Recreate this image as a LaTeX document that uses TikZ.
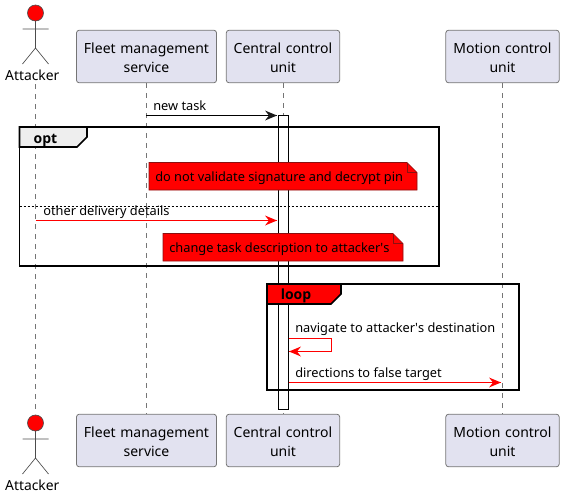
\documentclass[tikz,border=0pt]{standalone}
\usepackage{fontspec}
\setmainfont{Noto Sans}
\newfontfamily\fragfont{Open Sans}
\usetikzlibrary{calc}
\definecolor{partfill}{HTML}{E2E2F0}
\definecolor{partdraw}{HTML}{757575}
\definecolor{lifegray}{HTML}{757575}
\definecolor{tabgray}{HTML}{EEEEEE}
\definecolor{notedraw}{HTML}{8A1010}
\newcommand{\dn}[1]{\raisebox{-0.6pt}[\height][\depth]{#1}}
\tikzset{
  x=0.75pt,y=-0.75pt,
  txt/.style={inner sep=0pt,font=\fontsize{9.6pt}{13pt}\selectfont},
  acttxt/.style={inner sep=0pt,font=\fontsize{10.4pt}{13pt}\selectfont},
  fraglabel/.style={inner sep=0pt,anchor=base,font=\fragfont\fontsize{10.5pt}{13pt}\selectfont\bfseries},
  part/.style={draw=partdraw,fill=partfill,rounded corners=2pt,line width=0.6pt,align=center,inner sep=0pt,text width=105pt,minimum height=39.4pt,font=\fontsize{10.5pt}{14.2pt}\selectfont},
  part2/.style={part,text width=85pt},
  life/.style={draw=lifegray,line width=0.5pt,dash pattern=on 3.75pt off 3.75pt},
  stick/.style={draw=black!70,line width=0.5pt},
  msg/.style={line width=0.75pt},
  frame/.style={draw=black,line width=1.25pt},
  notebox/.style={draw=notedraw,line width=0.5pt,fill=red},
}
\newcommand{\arrowR}[2]{\fill[#1] (#2) -- ++(-12,-5) -- ++(4,5) -- ++(-4,5) -- cycle;}
\newcommand{\arrowL}[2]{\fill[#1] (#2) -- ++(12,-5) -- ++(-4,5) -- ++(4,5) -- cycle;}
\newcommand{\actor}[2]{%
  \draw[stick,fill=red] (#1,#2) circle (8);
  \draw[stick] (#1,#2+8) -- ++(0,27) (#1-13,#2+16) -- (#1+13,#2+16)
    (#1,#2+35) -- ++(-13,16) (#1,#2+35) -- ++(13,16);
}
\begin{document}
\begin{tikzpicture}
\useasboundingbox (0,0) rectangle (563,497);
\node[acttxt] (att1) at (32.3,75) {Attacker};
\node[acttxt] (att2) at (32.3,485) {Attacker};
\node[part] (fl1) at (146.5,56.5) {\dn{Fleet management}\\\dn{service}};
\node[part2] (cc1) at (283,56.5) {\dn{Central control}\\\dn{unit}};
\node[part2] (mc1) at (502.5,56.5) {\dn{Motion control}\\\dn{unit}};
\node[part] (fl2) at (146.5,440.5) {\dn{Fleet management}\\\dn{service}};
\node[part2] (cc2) at (283,440.5) {\dn{Central control}\\\dn{unit}};
\node[part2] (mc2) at (502.5,440.5) {\dn{Motion control}\\\dn{unit}};
\draw[life] (35.5,84) -- (35.5,409);
\draw[life] (fl1.south) -- (fl2.north);
\draw[life] (cc1.south) -- (cc2.north);
\draw[life] (mc1.south) -- (mc2.north);
\actor{35.5}{13}
\actor{35.5}{423}
% activation
\draw[fill=white,line width=0.75pt] (278.5,115.5) rectangle (288.5,409.5);
% new task
\coordinate (m1s) at (146,115.5); \coordinate (m1e) at (277,115.5);
\draw[msg] (m1s) -- (m1e);
\arrowR{black!90}{m1e}
\node[txt,anchor=base west] (t1) at (153,110) {new task};
% opt frame
\draw[frame] (19.5,127) rectangle (439,266);
\draw[line width=1.25pt,fill=tabgray] (19.5,127) -- (87,127) -- (87,137) -- (77,147) -- (19.5,147) -- cycle;
\node[fraglabel] (optl) at (45.5,143) {opt};
% note 1
\draw[notebox] (149,162.5) -- (407,162.5) -- (417,172.5) -- (417,190) -- (149,190) -- cycle;
\draw[notedraw,line width=0.5pt] (407,162.5) -- (407,172.5) -- (417,172.5);
\node[txt,anchor=base west] (n1) at (155,181.5) {do not validate signature and decrypt pin};
% separator
\draw[line width=0.75pt,dash pattern=on 1.5pt off 1.5pt] (19.5,206.5) -- (439,206.5);
% other delivery
\coordinate (m2s) at (35.5,220.5); \coordinate (m2e) at (277,220.5);
\draw[msg,red] (m2s) -- (m2e);
\arrowR{red}{m2e}
\node[txt,anchor=base west] (t2) at (43,215) {other delivery details};
% note 2
\draw[notebox] (163,233.5) -- (393,233.5) -- (403,243.5) -- (403,261) -- (163,261) -- cycle;
\draw[notedraw,line width=0.5pt] (393,233.5) -- (393,243.5) -- (403,243.5);
\node[txt,anchor=base west] (n2) at (169,252.5) {change task description to attacker\textquotesingle s};
% loop frame
\draw[frame] (267,284) rectangle (519,390);
\draw[line width=1.25pt,fill=red] (267,284) -- (341,284) -- (341,294) -- (331,304) -- (267,304) -- cycle;
\node[fraglabel] (loopl) at (296,299.5) {loop};
% self message
\coordinate (m3s) at (288.5,338.5); \coordinate (m3e) at (289,351.5);
\draw[msg,red] (m3s) -- (331,338.5) -- (331,351.5) -- (m3e);
\arrowL{red}{m3e}
\node[txt,anchor=base west] (t3) at (295,332) {navigate to attacker\textquotesingle s destination};
% directions
\coordinate (m4s) at (288.5,382.5); \coordinate (m4e) at (501,382.5);
\draw[msg,red] (m4s) -- (m4e);
\arrowR{red}{m4e}
\node[txt,anchor=base west] (t4) at (295,377) {directions to false target};
\end{tikzpicture}
\end{document}
